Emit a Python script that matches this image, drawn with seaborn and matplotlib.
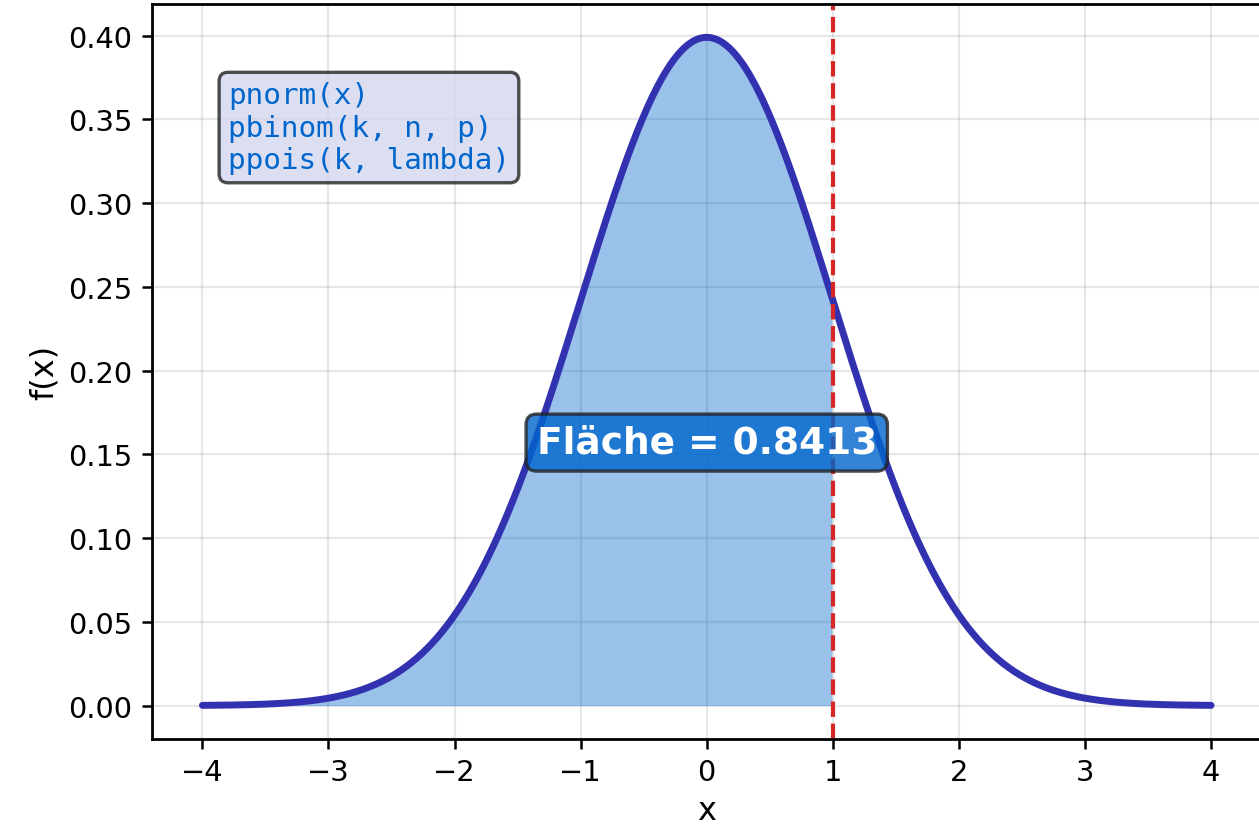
import numpy as np
import pandas as pd
import matplotlib
matplotlib.use("Agg")
import matplotlib.pyplot as plt
import seaborn as sns

# --- chart parameters (standard normal, area up to q) ---
mu = 0.0
sigma = 1.0
x_range = [-4, 4]
q = 1.0
area_label = "Fläche = 0.8413"
func_lines = ["pnorm(x)", "pbinom(k, n, p)", "ppois(k, lambda)"]

x = np.linspace(x_range[0], x_range[1], 400)
dens = np.exp(-0.5 * ((x - mu) / sigma) ** 2) / (sigma * np.sqrt(2 * np.pi))
df = pd.DataFrame({"x": x, "f(x)": dens})

sns.set_theme(style="ticks", context="notebook")
plt.rcParams["font.family"] = ["DejaVu Sans"]
plt.rcParams.update({
    "xtick.labelsize": 10.4,
    "ytick.labelsize": 10.4,
    "axes.labelsize": 11.5,
    "axes.labelcolor": "black",
    "axes.edgecolor": "black",
    "axes.linewidth": 1.0,
    "xtick.color": "black",
    "ytick.color": "black",
    "xtick.major.size": 3.5,
    "ytick.major.size": 3.5,
    "xtick.major.width": 0.9,
    "ytick.major.width": 0.9,
    "axes.labelpad": 3.0,
})

fig = plt.figure(figsize=(1259 / 200, 828 / 200), dpi=200)
ax = fig.add_axes([0.1207, 0.1063, 0.8813, 0.8877])

ax.grid(True, color="#b0b0b0", alpha=0.3, linewidth=0.8)
ax.set_axisbelow(True)

# shaded area under the curve up to q
sub = df[df["x"] <= q]
ax.fill_between(sub["x"], sub["f(x)"], color="#0066CC", alpha=0.4, linewidth=0)

sns.lineplot(data=df, x="x", y="f(x)", ax=ax, color="#3232B0", linewidth=2.5)

ax.axvline(q, color="#d62728", linestyle="--", linewidth=1.5)

ax.text(0.0685, 0.895, "\n".join(func_lines), transform=ax.transAxes,
        va="top", ha="left", fontsize=10.6, family="DejaVu Sans Mono", color="#0066CC",
        bbox=dict(boxstyle="round,pad=0.3", facecolor="#d4d6ee", edgecolor="#222222",
                  alpha=0.8, linewidth=1.2))

ax.text(mu, 0.157, area_label, ha="center", va="center", fontsize=13.5,
        fontweight="bold", color="white",
        bbox=dict(boxstyle="round,pad=0.28", facecolor="#0066CC", edgecolor="#222222",
                  alpha=0.8, linewidth=1.2))

ax.set_xlabel("x")
ax.set_ylabel("f(x)")
ax.set_yticks(np.arange(0, 0.41, 0.05))
ax.yaxis.set_major_formatter(matplotlib.ticker.FormatStrFormatter("%.2f"))

fig.savefig("out.png", dpi=200)
plt.close(fig)
